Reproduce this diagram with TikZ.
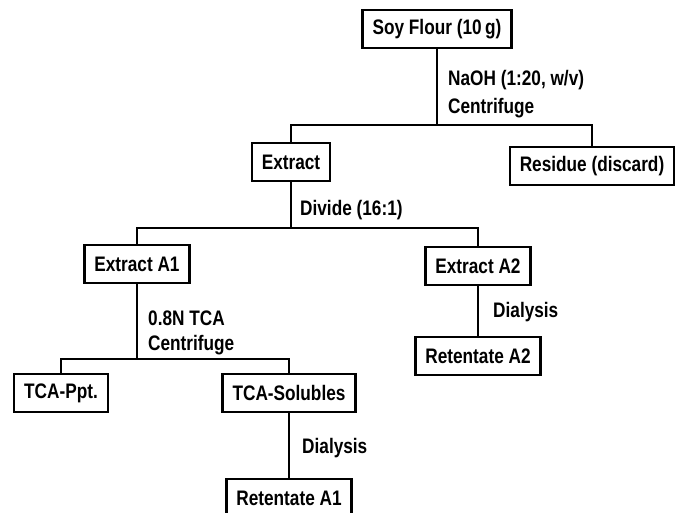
\documentclass[tikz,border=0pt]{standalone}
\usepackage{fontspec}
\setmainfont{Liberation Sans}[FakeStretch=0.82]
\usetikzlibrary{positioning}

\begin{document}
\begin{tikzpicture}[x=1pt, y=-1pt,
        stage/.style={rectangle, draw, line width=2.4pt, inner xsep=10pt, minimum height=38pt, font=\fontsize{21}{25}\selectfont\bfseries},
        note/.style={anchor=west, inner sep=0pt, font=\fontsize{21}{25}\selectfont\bfseries},
        link/.style={draw, line width=2.8pt}
    ]
        \useasboundingbox (0,0) rectangle (679,513);

        \node [stage] (soy) at (437,29) {Soy Flour (10\,g)};
        \node [stage] (extract) at (291,162) {Extract};
        \node [stage] (residue) at (592,166) {Residue (discard)};
        \node [stage] (exaone) at (137,264) {Extract A1};
        \node [stage] (exatwo) at (478,266) {Extract A2};
        \node [stage] (retatwo) at (478,356) {Retentate A2};
        \node [stage] (ppt) at (61,393) {TCA-Ppt.};
        \node [stage] (sol) at (289,393) {TCA-Solubles};
        \node [stage] (retaone) at (289,498) {Retentate A1};

        \coordinate (jsoy) at (437,125);
        \coordinate (jext) at (291,228);
        \coordinate (jaone) at (137,359);

        \draw [link] (soy) -- (jsoy);
        \draw [link] (extract) |- (jsoy) -| (residue);
        \draw [link] (extract) -- (jext);
        \draw [link] (exaone) |- (jext) -| (exatwo);
        \draw [link] (exatwo) -- (retatwo);
        \draw [link] (exaone) -- (jaone);
        \draw [link] (ppt) |- (jaone) -| (sol);
        \draw [link] (sol) -- (retaone);

        \node [note] (naoh) at (448,80) {NaOH (1:20, w/v)};
        \node [note] (cfone) at (448,108) {Centrifuge};
        \node [note] (divide) at (300,210) {Divide (16:1)};
        \node [note] (tca) at (148,318) {0.8N TCA};
        \node [note] (cftwo) at (148,345) {Centrifuge};
        \node [note] (dialtwo) at (493,312) {Dialysis};
        \node [note] (dialone) at (302,448) {Dialysis};
    \end{tikzpicture}
\end{document}
